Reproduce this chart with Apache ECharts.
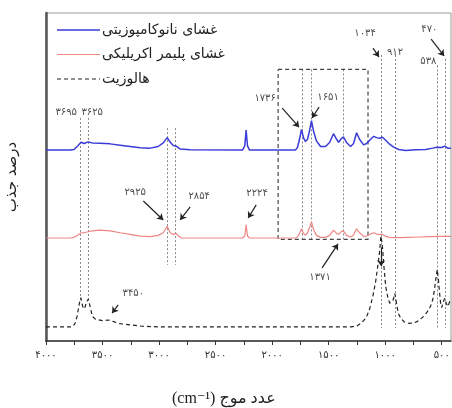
<!DOCTYPE html>
<html><head><meta charset="utf-8">
<script src="https://cdn.jsdelivr.net/npm/echarts@6/dist/echarts.min.js"></script>
<style>html,body{margin:0;padding:0;background:#fff}#c{width:452px;height:408px}</style>
</head><body><div id="c"></div>
<script>
const seriesNames = ['غشای نانوکامپوزیتی', 'غشای پلیمر اکریلیکی', 'هالوزیت'];

const nanoSpectrum = [
 [4000,58.2],[3787,58.2],[3752,58.4],[3716,59.6],[3690,60.6],[3663,60.2],[3628,60.7],[3592,60.4],
 [3522,60.3],[3433,60.1],[3344,59.7],[3256,59.3],[3167,58.9],[3078,58.8],[3008,59.3],[2963,60.4],
 [2928,62.0],[2901,60.6],[2875,59.6],[2848,59.4],[2813,58.5],[2724,58.3],[2262,58.2],[2242,59.5],
 [2230,64.3],[2218,59.5],[2200,58.2],[1794,58.2],[1776,59.0],[1758,61.5],[1740,64.5],[1723,62.0],
 [1705,60.8],[1687,61.5],[1670,64.0],[1652,67.2],[1634,64.0],[1608,61.0],[1572,59.3],[1528,59.3],
 [1492,60.5],[1457,63.2],[1430,61.5],[1412,60.6],[1386,61.8],[1368,62.2],[1342,60.5],[1306,59.3],
 [1280,60.2],[1253,63.5],[1227,61.5],[1191,59.8],[1165,60.2],[1129,61.5],[1102,62.4],[1076,62.0],
 [1049,61.8],[1023,62.1],[996,61.2],[961,60.0],[925,59.1],[881,58.4],[819,58.1],[730,58.3],
 [642,58.4],[580,58.8],[544,59.1],[527,58.7],[500,59.0],[473,59.4],[447,58.8],[418,58.8]
];

const acrylicSpectrum = [
 [4000,31.4],[3787,31.4],[3752,31.6],[3716,32.3],[3690,33.0],[3663,33.0],[3628,33.3],[3592,33.6],
 [3522,33.8],[3433,33.6],[3344,33.0],[3256,32.5],[3167,32.0],[3078,31.8],[3008,32.2],[2963,33.0],
 [2928,35.0],[2901,33.0],[2875,32.5],[2848,32.8],[2830,32.0],[2800,31.4],[2262,31.4],[2242,32.0],
 [2230,35.4],[2218,32.0],[2200,31.4],[1794,31.4],[1776,31.7],[1758,32.8],[1740,34.2],[1723,32.8],
 [1705,32.3],[1687,33.0],[1670,34.5],[1652,36.3],[1634,34.0],[1608,32.2],[1572,31.6],[1528,31.6],
 [1492,32.2],[1457,33.8],[1430,32.8],[1412,32.5],[1386,33.4],[1368,33.5],[1342,32.2],[1306,31.7],
 [1280,32.3],[1253,34.2],[1227,33.0],[1191,31.9],[1165,32.0],[1129,32.6],[1102,33.0],[1076,32.6],
 [1049,32.5],[1023,32.5],[996,31.9],[961,31.6],[925,31.5],[880,31.5],[800,31.6],[700,31.7],
 [600,31.8],[500,31.9],[418,31.9]
];

const halloysiteSpectrum = [
 [4000,4.3],[3770,4.3],[3745,5.2],[3725,7.5],[3705,11.5],[3692,13.2],[3675,10.5],[3660,9.8],
 [3640,12.0],[3625,12.8],[3610,10.5],[3590,7.5],[3560,6.6],[3500,6.2],[3450,6.4],[3400,5.9],
 [3350,5.3],[3250,4.9],[3150,4.5],[3000,4.3],[1300,4.3],[1250,4.6],[1210,5.5],[1170,7.0],
 [1140,9.5],[1110,13.5],[1085,18.0],[1065,23.0],[1050,27.0],[1038,32.0],[1025,29.0],[1012,23.0],
 [995,16.5],[975,13.0],[960,11.5],[945,12.0],[930,12.5],[915,14.5],[900,11.5],[885,8.5],
 [860,6.8],[830,5.8],[790,5.4],[750,5.5],[720,5.9],[690,6.6],[660,7.5],[630,8.8],
 [600,10.5],[580,12.5],[565,15.5],[550,19.5],[540,21.8],[530,19.0],[520,15.0],[510,11.5],
 [500,10.2],[490,11.5],[475,13.0],[460,11.5],[445,10.5],[430,12.0],[418,12.5]
];

const tickValues = [4000, 3500, 3000, 2500, 2000, 1500, 1000, 500];
const tickLabels = ['۴۰۰۰', '۳۵۰۰', '۳۰۰۰', '۲۵۰۰', '۲۰۰۰', '۱۵۰۰', '۱۰۰۰', '۵۰۰'];
const allTickValues = [4000, 3750, 3500, 3250, 3000, 2750, 2500, 2250, 2000, 1750, 1500, 1250, 1000, 750, 500];

// [text, wavenumber, value]
const peakLabels = [
 ['۳۶۹۵', 3821, 69.8], ['۳۶۲۵', 3591, 69.8], ['۲۹۲۵', 3211, 45.4], ['۲۸۵۴', 2645, 44.2],
 ['۲۲۲۴', 2133, 45.1], ['۱۷۳۶', 2062, 74.1], ['۱۶۵۱', 1505, 74.4], ['۱۳۷۱', 1576, 19.5],
 ['۱۰۳۴', 1178, 93.9], ['۹۱۲', 913, 88.1], ['۵۳۸', 618, 85.1], ['۴۷۰', 609, 95.1],
 ['۳۴۵۰', 3228, 14.6]
];
// [fromWn, fromVal, toWn, toVal]
const peakArrows = [
 [3139, 42.7, 2963, 36.9], [2725, 40.9, 2813, 36.9], [2141, 41.5, 2212, 37.5],
 [1911, 71.0, 1762, 65.2], [1585, 71.3, 1647, 68.0], [1558, 22.3, 1417, 29.6],
 [1108, 89.3, 1055, 86.6], [594, 92.0, 479, 86.9], [3362, 11.0, 3415, 8.5],
 [1036, 28.4, 1036, 22.8]
];
// [wavenumber, topVal, bottomVal]
const guideLines = [
 [3695, 68, 12.5], [3625, 68, 12.5], [2925, 64.9, 23.2], [2854, 64.9, 23.2],
 [1736, 82.8, 31.0], [1651, 82.8, 31.0], [1371, 82.8, 31.0],
 [1034, 87.2, 4.0], [912, 87.2, 4.0], [538, 84.0, 4.0], [470, 86.0, 4.0]
];
// [leftWn, rightWn, topVal, bottomVal]
const zoomBox = [1947, 1152, 82.8, 31.0];

const legendColors = ['#3b3bd9', '#ef8585', '#222'];
const legendDash = [null, null, [4, 3]];

const chart = echarts.init(document.getElementById('c'), null, {renderer: 'canvas'});
const faFont = '"DejaVu Sans", "Noto Sans", sans-serif';

const legendGraphics = [];
seriesNames.forEach((n, i) => {
  const y = 30 + i * 24.5;
  legendGraphics.push({type: 'line', shape: {x1: 57, y1: y, x2: 100, y2: y},
    style: {stroke: legendColors[i], lineWidth: i === 0 ? 1.5 : 1.2, lineDash: legendDash[i] || null}, z: 10});
  legendGraphics.push({type: 'text', x: 102, y: y,
    style: {text: n, font: '14px ' + faFont, fill: '#222', textAlign: 'left', textVerticalAlign: 'middle'}, z: 10});
});

chart.setOption({
  animation: false,
  backgroundColor: '#fff',
  grid: {left: 46, right: 1, top: 13, bottom: 67, show: true, borderColor: '#9a9a9a', borderWidth: 1,
         containLabel: false, outerBoundsMode: 'none'},
  xAxis: {
    type: 'value', inverse: true, min: 418, max: 4000,
    axisLine: {lineStyle: {color: '#333', width: 1.5}},
    axisTick: {customValues: allTickValues, length: 4, lineStyle: {color: '#333'}},
    axisLabel: {customValues: tickValues, margin: 9, fontFamily: faFont, fontSize: 10, color: '#333',
      formatter: v => tickLabels[tickValues.indexOf(v)] || ''},
    splitLine: {show: false}
  },
  yAxis: {
    type: 'value', min: 0, max: 100,
    name: 'درصد جذب', nameLocation: 'middle', nameGap: 26, nameRotate: 90,
    nameTextStyle: {fontFamily: faFont, fontSize: 15, color: '#222'},
    axisLine: {show: true, lineStyle: {color: '#555', width: 2.5}},
    axisTick: {show: false}, axisLabel: {show: false}, splitLine: {show: false}
  },
  graphic: legendGraphics.concat([{
    type: 'text', left: 172, top: 391,
    style: {text: '(cm⁻¹) عدد موج', font: '16px "Liberation Serif", "DejaVu Sans", serif', fill: '#222'}
  }]),
  series: [
    {name: seriesNames[0], type: 'line', data: nanoSpectrum, showSymbol: false, symbol: 'none',
     lineStyle: {color: legendColors[0], width: 1.5}, itemStyle: {color: legendColors[0]}, z: 5},
    {name: seriesNames[1], type: 'line', data: acrylicSpectrum, showSymbol: false, symbol: 'none',
     lineStyle: {color: legendColors[1], width: 1.2}, itemStyle: {color: legendColors[1]}, z: 5},
    {name: seriesNames[2], type: 'line', data: halloysiteSpectrum, showSymbol: false, symbol: 'none',
     lineStyle: {color: legendColors[2], width: 1.2, type: [4, 3]}, itemStyle: {color: legendColors[2]}, z: 5},
    {type: 'lines', coordinateSystem: 'cartesian2d', z: 3,
     lineStyle: {color: '#888', width: 1, type: [2, 2], opacity: 1},
     data: guideLines.map(g => ({coords: [[g[0], g[1]], [g[0], g[2]]]}))},
    {type: 'lines', coordinateSystem: 'cartesian2d', polyline: true, z: 3,
     lineStyle: {color: '#444', width: 1.2, type: [4, 3], opacity: 1},
     data: [{coords: [[zoomBox[0], zoomBox[2]], [zoomBox[1], zoomBox[2]], [zoomBox[1], zoomBox[3]],
                      [zoomBox[0], zoomBox[3]], [zoomBox[0], zoomBox[2]]]}]},
    {type: 'lines', coordinateSystem: 'cartesian2d', z: 6, symbol: ['none', 'arrow'], symbolSize: 6,
     lineStyle: {color: '#222', width: 1.2, opacity: 1},
     data: peakArrows.map(a => ({coords: [[a[0], a[1]], [a[2], a[3]]]}))},
    {type: 'scatter', symbolSize: 0, z: 7, silent: true,
     data: peakLabels.map(p => ({name: p[0], value: [p[1], p[2]]})),
     label: {show: true, position: 'inside', formatter: p => p.name, fontFamily: faFont, fontSize: 10, color: '#222'}}
  ]
});
</script></body></html>
